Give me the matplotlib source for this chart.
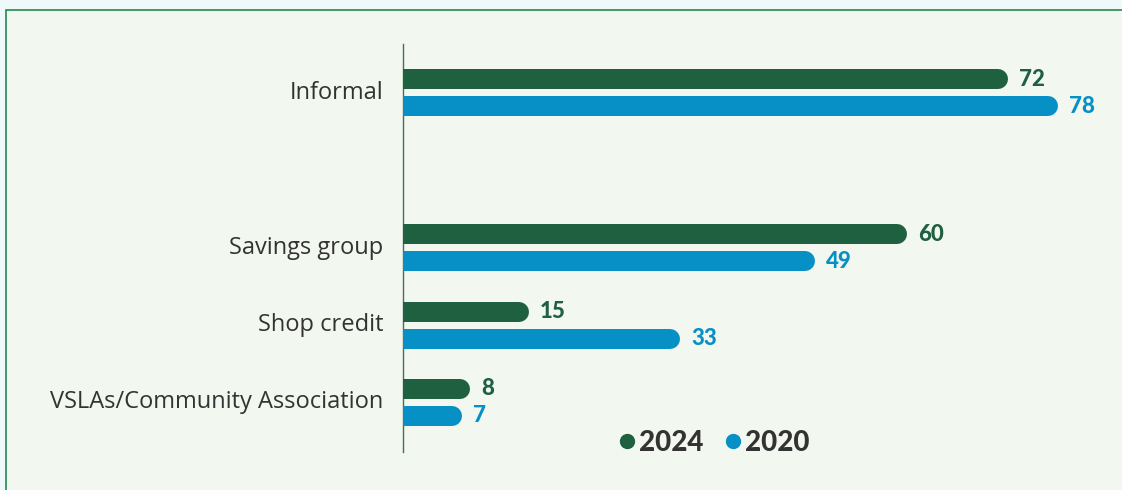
import matplotlib.pyplot as plt
import matplotlib.transforms as mtransforms
from matplotlib.patches import Rectangle
from matplotlib.lines import Line2D

categories = ["Informal", "Savings group", "Shop credit", "VSLAs/Community Association"]
values_2024 = [72, 60, 15, 8]
values_2020 = [78, 49, 33, 7]
series_names = ["2024", "2020"]

# row positions (gap left after "Informal")
rows = [0, 2, 3, 4]

GREEN = "#1e6040"
BLUE = "#0790c5"
TEXT = "#333333"

plt.rcParams['font.family'] = ['Lato', 'DejaVu Sans']

fig = plt.figure(figsize=(11.22, 4.90), dpi=100)
fig.patch.set_facecolor("#eff9fa")

# panel with green border
fig.patches.append(Rectangle((6 / 1122, -0.2), 1.2, 1.2 - 10 / 490,
                             transform=fig.transFigure, facecolor="#f2f7ef",
                             edgecolor="#23894f", linewidth=1.2, zorder=-5))

ax = fig.add_axes([403 / 1122, 38 / 490, 1 - 403 / 1122, 408 / 490])
ax.set_facecolor("none")

px_per_unit = 8.4
xmax = (1122 - 403) / px_per_unit
ax.set_xlim(0, xmax)
ax.set_ylim(4.64, -0.63)

bar_px = 20
lw_pt = bar_px * 0.72
cap = (bar_px / 2) / px_per_unit
off = 13.5 / 77.5

for y, v24, v20 in zip(rows, values_2024, values_2020):
    for v, dy, c in [(v24, -off, GREEN), (v20, off, BLUE)]:
        ax.plot([-cap * 2, v - cap], [y + dy, y + dy], color=c, lw=lw_pt,
                solid_capstyle='round', zorder=3)
        ax.text(v + 11 / px_per_unit, y + dy, str(v), color=c, fontsize=16,
                fontweight='black', va='center', ha='left')

ax.set_yticks(rows)
ax.set_yticklabels(categories, fontsize=17, color=TEXT, family=['Open Sans', 'DejaVu Sans'])
ax.tick_params(axis='y', length=0, pad=14)
shift = mtransforms.ScaledTranslation(0, 3 / 100, fig.dpi_scale_trans)
for lbl in ax.get_yticklabels():
    lbl.set_transform(lbl.get_transform() + shift)
ax.set_xticks([])
for s in ['top', 'right', 'bottom']:
    ax.spines[s].set_visible(False)
ax.spines['left'].set_color("#4d6b58")
ax.spines['left'].set_linewidth(1)

handles = [Line2D([], [], marker='o', ls='', color=GREEN, markersize=10),
           Line2D([], [], marker='o', ls='', color=BLUE, markersize=10)]
leg = fig.legend(handles, series_names, loc='center', bbox_to_anchor=(712 / 1122, 1 - 443 / 490),
                 ncol=2, frameon=False, handletextpad=0.0, columnspacing=0.6,
                 prop={'size': 20, 'weight': 'black'}, handlelength=0.9)
for t in leg.get_texts():
    t.set_color(TEXT)

fig.savefig("out.png", dpi=100, facecolor=fig.get_facecolor())
